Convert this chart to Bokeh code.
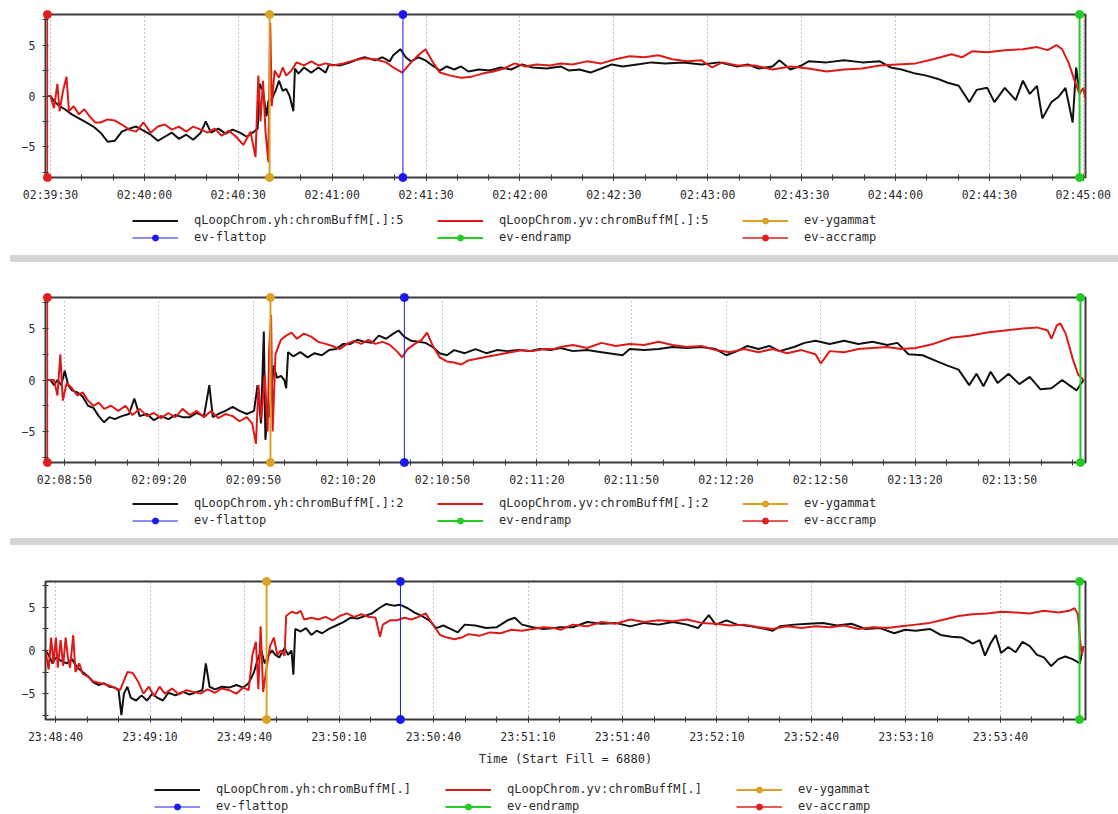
from bokeh.plotting import figure
from bokeh.models import FixedTicker, Legend, LegendItem, Range1d, Div
from bokeh.layouts import column
from bokeh.embed import file_html
from bokeh.resources import INLINE

# ---------------- data (seconds from first labelled tick, value) ----------------
P1_LABELS = ["02:39:30", "02:40:00", "02:40:30", "02:41:00", "02:41:30", "02:42:00",
             "02:42:30", "02:43:00", "02:43:30", "02:44:00", "02:44:30", "02:45:00"]
P2_LABELS = ["02:08:50", "02:09:20", "02:09:50", "02:10:20", "02:10:50", "02:11:20",
             "02:11:50", "02:12:20", "02:12:50", "02:13:20", "02:13:50"]
P3_LABELS = ["23:48:40", "23:49:10", "23:49:40", "23:50:10", "23:50:40", "23:51:10",
             "23:51:40", "23:52:10", "23:52:40", "23:53:10", "23:53:40"]

P1_NAMES = ["qLoopChrom.yh:chromBuffM[.]:5", "qLoopChrom.yv:chromBuffM[.]:5"]
P2_NAMES = ["qLoopChrom.yh:chromBuffM[.]:2", "qLoopChrom.yv:chromBuffM[.]:2"]
P3_NAMES = ["qLoopChrom.yh:chromBuffM[.]", "qLoopChrom.yv:chromBuffM[.]"]
EVENT_NAMES = ["ev-ygammat", "ev-flattop", "ev-endramp", "ev-accramp"]

# event times (s) per panel: ygammat, flattop, endramp, accramp
P1_EVENTS = [[70.0], [112.6], [328.8], [-1.0]]
P2_EVENTS = [[65.4], [107.9], [322.5], [-5.4]]
P3_EVENTS = [[67.0], [109.5], [325.1], []]

P1_YH = [(-1.0,0.0),(0.0,0.0),(1.1,-0.5),(2.9,-1.0),(4.6,-1.3),(6.8,-1.8),(9.1,-2.2),(11.4,-2.6),(13.7,-3.0),(16.0,-3.6),(18.3,-4.5),(20.5,-4.4),(22.8,-3.5),(25.1,-3.2),(27.4,-3.0),(29.7,-3.4),(32.0,-3.8),(34.3,-4.4),(36.5,-4.0),(38.8,-3.6),(41.0,-4.2),(43.4,-3.8),(45.6,-4.3),(48.0,-3.6),(49.6,-2.5),(51.3,-3.6),(53.6,-3.2),(56.0,-3.7),(58.2,-3.3),(60.5,-3.6),(62.7,-4.0),(65.0,-3.5),(66.2,-3.2),(66.8,1.2),(67.9,0.5),(69.0,-2.0),(69.6,-0.5),(70.7,-0.3),(71.9,0.5),(73.0,1.5),(74.2,0.5),(75.3,0.7),(76.4,0.0),(77.6,-1.5),(78.1,2.7),(79.2,2.2),(81.0,2.8),(83.3,2.3),(85.6,2.8),(87.9,2.3),(89.0,3.1),(92.4,3.0),(95.8,3.3),(98.1,3.6),(100.4,3.8),(103.8,3.5),(106.1,3.8),(108.4,3.4),(109.5,4.0),(111.8,4.6),(113.5,3.8),(115.2,3.4),(117.5,3.8),(119.8,3.5),(122.0,3.0),(124.4,2.5),(126.6,2.9),(129.0,2.6),(131.2,2.9),(133.5,2.4),(136.9,2.6),(140.3,2.5),(143.8,2.8),(147.2,2.6),(150.6,3.1),(154.0,2.8),(158.5,2.7),(163.0,2.9),(165.7,2.5),(169.0,2.6),(172.5,2.3),(176.0,2.7),(179.4,3.1),(182.8,2.9),(187.4,3.1),(192.0,3.3),(196.5,3.2),(202.2,3.3),(208.0,3.1),(213.7,3.3),(219.4,2.9),(222.8,3.1),(226.2,2.7),(230.7,2.9),(232.9,3.5),(236.4,2.6),(240.0,3.0),(242.2,3.4),(248.0,3.3),(253.6,3.5),(259.3,3.3),(265.0,3.4),(268.4,2.8),(271.9,2.6),(276.4,2.2),(279.9,2.0),(283.3,1.7),(286.7,1.3),(290.2,1.0),(293.6,-0.6),(295.9,0.6),(299.3,0.8),(301.6,-0.6),(304.9,0.8),(308.4,-0.4),(310.7,1.5),(312.9,0.2),(315.2,1.0),(316.9,-2.2),(319.8,-0.6),(322.0,-0.1),(324.3,0.8),(326.6,-2.6),(327.7,2.8),(328.8,0.3)]

P1_YV = [(-1.0,0.0),(0.0,0.0),(1.1,-1.2),(2.2,1.2),(2.9,-1.5),(4.0,0.5),(5.1,1.9),(5.9,-1.5),(7.4,-1.0),(9.1,-1.8),(10.8,-1.3),(12.5,-2.0),(14.3,-2.6),(16.0,-2.6),(18.3,-2.3),(20.5,-2.4),(22.8,-2.8),(25.1,-3.3),(27.4,-3.5),(29.7,-2.6),(32.0,-3.6),(34.3,-3.0),(36.5,-2.8),(38.8,-3.3),(41.0,-3.0),(43.4,-3.5),(45.6,-3.0),(48.0,-3.3),(50.2,-3.6),(52.5,-3.2),(54.7,-3.9),(57.0,-3.4),(59.3,-4.0),(61.6,-4.8),(63.9,-3.5),(65.5,-6.0),(66.4,2.0),(67.1,-2.5),(67.9,1.5),(68.7,-3.5),(69.6,-6.5),(70.2,7.2),(70.7,-1.0),(71.6,2.5),(73.0,1.8),(74.2,2.8),(75.3,2.0),(77.0,2.5),(78.6,3.3),(81.0,3.0),(83.3,3.4),(85.6,3.0),(87.9,3.2),(90.1,3.0),(93.6,3.2),(97.0,3.5),(100.4,3.7),(103.8,3.6),(107.3,3.3),(109.5,2.8),(112.4,2.3),(115.2,3.3),(117.5,4.0),(119.8,4.6),(122.0,3.4),(124.4,2.3),(127.8,2.0),(131.2,1.8),(134.6,1.9),(138.0,2.2),(141.5,2.4),(144.9,2.7),(148.3,3.2),(151.8,2.9),(155.2,3.1),(159.7,3.0),(163.0,3.2),(166.8,3.1),(171.4,3.4),(176.0,3.2),(180.5,3.6),(185.0,3.9),(189.7,3.8),(194.2,4.0),(198.7,3.6),(203.4,3.4),(208.0,3.5),(211.4,2.8),(214.7,3.3),(219.4,3.0),(225.0,3.0),(230.7,2.6),(236.4,2.9),(242.2,2.7),(248.0,2.4),(253.6,2.6),(259.3,2.7),(265.0,3.0),(270.6,3.1),(276.4,3.2),(282.0,3.6),(287.9,4.1),(291.2,3.8),(294.6,4.4),(299.3,4.3),(304.9,4.5),(310.7,4.6),(315.2,4.8),(318.6,4.5),(321.4,5.0),(323.2,4.6),(325.4,3.2),(327.2,1.5),(328.8,0.2),(330.0,0.8),(330.6,-0.2)]

P2_YH = [(-5.4,0.0),(-4.4,0.0),(-3.3,-0.5),(-2.2,0.0),(-1.0,-0.5),(0.1,0.9),(1.2,-0.5),(2.4,-1.0),(4.1,-1.2),(5.8,-1.6),(7.5,-2.5),(9.2,-2.7),(10.9,-3.5),(12.6,-4.1),(14.3,-3.6),(16.0,-3.8),(18.2,-3.5),(20.5,-3.3),(22.2,-1.8),(23.9,-3.5),(26.2,-3.3),(28.4,-3.9),(30.7,-3.5),(33.0,-3.8),(35.2,-3.4),(37.5,-3.6),(39.8,-3.6),(42.0,-3.2),(44.3,-3.5),(46.0,-0.5),(47.1,-3.6),(48.8,-3.3),(51.1,-3.0),(53.4,-2.6),(55.6,-3.0),(57.9,-3.3),(60.2,-3.0),(61.3,-0.5),(62.4,-4.2),(63.3,4.7),(63.8,-5.8),(64.5,-3.2),(65.0,-3.6),(66.4,1.4),(67.5,0.2),(68.7,0.4),(69.8,0.0),(70.4,-0.8),(71.0,2.7),(72.6,2.3),(74.9,2.7),(77.2,2.2),(79.4,2.6),(81.7,2.4),(84.0,2.9),(86.2,3.0),(88.5,3.5),(90.8,3.5),(93.0,3.9),(95.3,3.7),(97.6,3.6),(99.8,4.3),(102.1,4.0),(104.4,4.5),(106.1,4.8),(107.8,4.2),(110.1,3.8),(112.3,3.7),(114.6,3.6),(116.9,3.2),(119.1,2.6),(121.4,2.4),(123.7,2.9),(127.1,2.6),(130.5,3.0),(133.9,2.6),(137.3,2.9),(140.7,2.8),(144.1,2.9),(147.5,2.8),(150.9,3.0),(154.3,2.9),(157.5,3.1),(161.4,2.8),(165.9,2.9),(170.5,2.7),(175.0,2.5),(177.2,2.4),(179.4,3.0),(184.0,2.9),(188.6,3.0),(193.0,3.2),(197.6,3.1),(202.2,3.2),(206.7,3.0),(210.1,2.4),(213.5,2.8),(216.8,3.3),(220.3,3.0),(223.7,3.3),(227.0,2.8),(231.6,3.2),(234.9,3.6),(238.4,3.8),(242.9,3.5),(247.5,3.8),(252.0,3.5),(256.5,3.7),(261.1,3.4),(264.4,3.6),(267.9,2.5),(272.4,2.4),(277.0,1.8),(280.3,1.4),(283.8,1.0),(287.2,-0.5),(289.5,0.6),(291.7,-0.6),(294.0,0.8),(296.2,-0.3),(299.7,0.6),(303.1,-0.4),(306.4,0.3),(309.8,-0.9),(313.3,-0.8),(316.7,0.0),(318.9,-0.5),(321.3,-1.0),(323.5,0.0)]

P2_YV = [(-5.4,0.0),(-3.3,0.0),(-2.2,-1.5),(-1.3,2.5),(-0.5,-2.0),(0.7,-0.3),(2.4,-0.8),(4.1,-1.5),(5.8,-1.2),(7.5,-2.0),(9.2,-2.5),(10.9,-2.2),(12.6,-2.8),(14.8,-2.5),(17.1,-3.0),(19.4,-2.5),(21.6,-3.4),(23.9,-2.8),(26.2,-3.5),(28.4,-3.2),(30.7,-3.7),(33.0,-3.2),(35.2,-3.6),(37.5,-2.8),(39.8,-3.4),(42.0,-3.0),(44.3,-3.6),(46.6,-3.0),(48.8,-3.7),(51.1,-3.3),(53.4,-3.5),(55.6,-4.0),(57.9,-3.6),(59.6,-4.2),(60.8,-6.2),(61.6,-0.5),(62.5,-3.8),(63.6,0.5),(64.5,-5.0),(65.0,3.0),(65.6,6.3),(66.1,-5.0),(67.0,2.5),(68.7,3.9),(70.4,4.3),(72.1,4.6),(73.8,4.0),(76.0,4.5),(78.3,4.2),(80.6,3.7),(82.9,3.5),(85.1,3.3),(87.4,3.0),(89.7,3.5),(91.9,3.8),(94.2,3.5),(96.5,3.9),(98.7,3.5),(101.0,3.7),(103.3,3.4),(105.5,2.8),(107.2,2.2),(108.9,3.0),(111.2,3.5),(113.4,3.9),(115.1,4.6),(116.8,3.4),(119.1,2.2),(121.4,1.8),(123.7,1.7),(125.9,1.5),(128.2,1.9),(131.6,2.1),(135.0,2.3),(138.4,2.5),(141.8,2.7),(145.2,2.9),(148.6,2.8),(152.0,3.0),(155.4,3.0),(157.5,3.2),(161.4,3.4),(165.9,3.1),(170.5,3.6),(175.0,3.3),(179.4,3.5),(184.0,3.4),(188.6,3.7),(193.0,3.4),(197.6,3.2),(202.2,3.3),(206.7,2.9),(211.2,2.7),(215.8,3.0),(220.3,2.7),(224.8,3.0),(229.4,2.6),(233.9,2.9),(238.4,2.5),(240.1,1.6),(242.9,2.8),(247.5,2.7),(252.0,3.0),(256.5,3.1),(261.1,3.2),(265.6,3.0),(270.2,3.1),(275.8,3.5),(281.5,4.1),(287.2,4.3),(292.9,4.6),(298.5,4.8),(304.2,5.0),(308.7,5.1),(312.1,4.8),(313.3,4.0),(315.0,5.3),(316.1,5.5),(317.8,4.5),(320.1,2.0),(321.8,0.5),(323.5,0.0)]

P3_YH = [(-3.2,0.0),(-2.2,-0.5),(-1.0,-1.5),(0.1,-0.8),(1.8,-1.2),(3.5,-1.5),(5.2,-1.0),(6.9,-2.0),(8.6,-2.5),(10.3,-3.0),(12.0,-3.7),(13.7,-4.0),(15.4,-3.8),(17.1,-4.2),(18.8,-4.3),(20.0,-4.6),(20.9,-7.5),(21.7,-5.0),(22.8,-4.2),(23.9,-5.5),(25.6,-5.8),(27.3,-5.2),(29.0,-5.8),(30.7,-5.0),(32.4,-5.5),(34.1,-5.8),(35.8,-4.9),(38.1,-5.2),(40.4,-4.8),(42.6,-5.1),(44.9,-4.8),(46.6,-4.6),(47.7,-1.5),(48.9,-4.2),(50.6,-4.5),(52.8,-4.2),(55.1,-4.3),(57.4,-4.0),(59.6,-4.3),(61.3,-3.8),(63.0,-2.5),(64.2,-1.0),(65.3,0.0),(66.4,-1.5),(67.6,-0.5),(68.7,0.0),(69.8,-0.5),(71.0,-0.8),(72.7,0.3),(73.8,-0.5),(74.9,0.0),(75.5,-2.8),(76.1,2.5),(77.8,2.2),(79.5,2.6),(81.2,1.8),(82.9,2.3),(84.6,2.0),(86.8,2.5),(89.1,2.9),(91.4,3.3),(93.7,3.8),(95.9,3.7),(98.2,4.0),(100.5,4.3),(102.7,4.9),(105.0,5.4),(107.3,5.2),(109.5,5.3),(111.8,4.9),(114.0,4.4),(116.3,4.0),(118.6,3.5),(120.9,2.6),(123.1,2.9),(125.4,2.5),(127.7,2.1),(129.9,3.0),(133.3,2.9),(136.7,2.6),(140.1,2.7),(143.5,3.5),(145.8,3.8),(148.1,3.0),(151.5,2.7),(154.9,2.5),(158.3,2.6),(160.3,2.7),(164.2,2.7),(168.8,3.3),(173.3,3.1),(177.8,3.2),(182.4,2.8),(186.9,3.2),(191.5,3.0),(196.0,3.3),(200.5,3.0),(204.0,2.6),(207.4,4.1),(209.6,3.0),(213.0,3.5),(216.4,3.0),(220.9,2.8),(225.5,2.5),(227.7,2.3),(230.0,2.8),(234.5,3.0),(239.0,3.1),(243.6,3.2),(248.1,2.9),(252.7,3.1),(257.2,2.5),(261.7,2.6),(266.3,2.0),(269.7,2.4),(273.1,2.3),(277.6,2.5),(281.0,1.8),(284.4,1.6),(287.8,1.5),(291.2,0.8),(293.4,1.2),(295.1,-0.6),(296.8,0.8),(298.5,1.8),(300.2,-0.3),(302.5,0.4),(304.8,-0.2),(307.0,1.0),(309.3,0.5),(311.6,-0.5),(313.8,-0.8),(316.1,-1.8),(318.4,-1.0),(320.6,-0.7),(322.9,-1.0),(325.2,-1.5),(326.3,0.5)]

P3_YV = [(-3.2,0.0),(-2.2,-2.2),(-1.4,1.5),(-0.7,-1.5),(0.1,1.5),(0.7,-2.0),(1.6,1.2),(2.4,-1.8),(3.2,1.5),(3.9,-0.8),(4.6,-2.0),(5.6,1.8),(6.3,-2.5),(7.5,-1.5),(8.6,-2.7),(10.3,-3.0),(12.0,-3.6),(14.3,-3.8),(16.6,-4.0),(18.8,-4.3),(20.5,-4.6),(21.7,-3.5),(22.8,-2.5),(24.5,-2.6),(26.2,-3.6),(27.9,-5.0),(29.6,-4.2),(31.3,-5.3),(33.0,-4.2),(34.7,-5.0),(37.0,-4.4),(39.2,-5.1),(41.5,-4.6),(43.8,-4.8),(46.0,-5.0),(48.3,-4.5),(50.6,-4.9),(52.8,-4.4),(55.1,-4.6),(57.4,-5.0),(59.6,-4.3),(61.3,-4.6),(62.5,-0.5),(63.6,1.0),(64.4,-4.5),(65.1,2.8),(65.9,-4.8),(67.0,-2.0),(68.1,0.5),(69.3,1.5),(70.4,-0.5),(71.5,0.0),(72.7,-0.6),(73.2,4.0),(74.9,4.5),(76.6,4.3),(77.8,4.6),(78.9,3.6),(81.2,3.8),(83.4,3.6),(85.7,3.9),(88.0,3.5),(90.2,4.0),(92.5,4.3),(94.8,3.9),(97.1,4.2),(99.3,3.9),(101.6,3.8),(103.0,1.6),(103.9,3.0),(106.2,3.5),(108.4,3.5),(110.7,3.8),(113.0,3.6),(115.2,3.9),(117.5,4.3),(119.8,3.0),(122.1,1.8),(124.3,1.5),(126.6,1.3),(128.9,1.5),(131.1,1.9),(134.5,1.7),(137.9,2.1),(141.3,2.0),(144.7,2.4),(148.1,2.3),(151.5,2.5),(154.9,2.7),(158.3,2.6),(160.3,2.4),(164.2,3.0),(168.8,2.8),(173.3,3.3),(177.8,3.1),(182.4,3.6),(186.9,3.3),(191.5,3.5),(196.0,3.4),(200.5,3.6),(205.0,3.2),(209.6,3.1),(214.1,2.9),(218.6,3.0),(223.2,2.7),(227.7,2.5),(232.2,2.8),(236.8,2.6),(241.3,2.8),(245.9,2.7),(250.4,2.9),(254.9,2.5),(259.5,2.7),(264.0,2.6),(268.6,2.8),(273.1,3.0),(277.6,3.2),(282.2,3.6),(286.7,4.0),(291.2,4.2),(295.8,4.3),(300.3,4.5),(304.8,4.4),(309.3,4.3),(313.8,4.6),(318.4,4.4),(321.8,4.6),(323.5,4.9),(324.6,4.2),(325.2,1.5),(325.8,-0.5),(326.3,0.5)]

Y_TICKS = [-5, 0, 5]
Y_MINOR = [-7.5, -2.5, 2.5, 7.5]

# ---------------- styling ----------------
FONT = "DejaVu Sans Mono"
TXT = "#2b2b2b"
AX = "#3a3a3a"
C_YH = "#111111"
C_YV = "#dd1a1a"
EVENT_STYLE = [("#dba224", 2.0), ("#1a1aee", 1.0), ("#22cc22", 2.0), ("#e02020", 1.5)]
PAGE_W = 1118


def xs_of(series):
    return [t for t, _ in series]


def ys_of(series):
    return [v for _, v in series]


def panel(labels, x0, x1, yh, yv, events, height, top, bottom, xlabel=None):
    p = figure(width=PAGE_W, height=height, min_border_left=45, min_border_right=33,
               min_border_top=top, min_border_bottom=bottom,
               x_range=Range1d(x0, x1), y_range=Range1d(-8, 8),
               toolbar_location=None, output_backend="svg",
               background_fill_color="white", border_fill_color="white")
    major = [30 * i for i in range(len(labels))]
    minor = [10 * i for i in range(int(x0 // 10) + 1, int(x1 // 10) + 1)]
    p.xaxis.ticker = FixedTicker(ticks=major, minor_ticks=minor)
    p.xaxis.major_label_overrides = {m: l for m, l in zip(major, labels)}
    p.yaxis.ticker = FixedTicker(ticks=Y_TICKS, minor_ticks=Y_MINOR)
    for ax in (p.xaxis[0], p.yaxis[0]):
        ax.axis_line_color = AX
        ax.major_tick_line_color = AX
        ax.minor_tick_line_color = AX
        ax.major_tick_in = 3
        ax.major_tick_out = 3
        ax.minor_tick_in = 3
        ax.minor_tick_out = 3
        ax.major_label_text_font = FONT
        ax.major_label_text_font_size = "11.5px"
        ax.major_label_text_color = TXT
    p.xaxis.major_label_standoff = 7
    p.yaxis.major_label_standoff = 7
    if xlabel:
        p.xaxis.axis_label = xlabel
        p.xaxis.axis_label_text_font = FONT
        p.xaxis.axis_label_text_font_size = "12px"
        p.xaxis.axis_label_text_font_style = "normal"
        p.xaxis.axis_label_text_color = TXT
        p.xaxis.axis_label_standoff = 5
    p.xgrid.grid_line_color = "#8f8f8f"
    p.xgrid.grid_line_dash = "1 3"
    p.ygrid.visible = False
    p.outline_line_color = AX
    p.outline_line_width = 2

    p.line(xs_of(yh), ys_of(yh), line_color=C_YH, line_width=2)
    p.line(xs_of(yv), ys_of(yv), line_color=C_YV, line_width=2)
    for ts, (c, w) in zip(events, EVENT_STYLE):
        n = len(ts)
        p.segment(x0=list(ts), y0=[-8] * n, x1=list(ts), y1=[8] * n,
                  line_color=c, line_width=w)
        p.scatter(x=list(ts) + list(ts), y=[-8] * n + [8] * n, size=8,
                  fill_color=c, line_color=c, level="overlay")
    return p


def legend_strip(names, yh, yv, events, height, lx, ly, label_w):
    # The strip views a range that holds no data, so its renderers only serve as
    # legend keys (same data and styles as the panel, nothing drawn in the strip).
    f = figure(width=PAGE_W, height=height, min_border_left=45, min_border_right=33,
               min_border_top=0, min_border_bottom=0, x_axis_location=None,
               y_axis_location=None, x_range=Range1d(-1001, -1000),
               y_range=Range1d(-1001, -1000),
               toolbar_location=None, output_backend="svg", outline_line_color=None,
               background_fill_color="white", border_fill_color="white")
    f.grid.visible = False
    r_h = f.line(xs_of(yh), ys_of(yh), line_color=C_YH, line_width=2)
    r_v = f.line(xs_of(yv), ys_of(yv), line_color=C_YV, line_width=2)
    items = [LegendItem(label=names[0], renderers=[r_h]),
             LegendItem(label=names[1], renderers=[r_v])]
    for name, ts, (c, w) in zip(EVENT_NAMES, events, EVENT_STYLE):
        xs = list(ts) if ts else [yh[0][0]]
        n = len(xs)
        seg = f.segment(x0=xs, y0=[-8] * n, x1=xs, y1=[8] * n, line_color=c, line_width=w)
        sc = f.scatter(x=xs, y=[8] * n, size=7, fill_color=c, line_color=c)
        items.append(LegendItem(label=name, renderers=[seg, sc]))
    leg = Legend(items=items, orientation="horizontal", ncols=3,
                 location=(lx, ly), margin=0, padding=0, spacing=2,
                 glyph_width=46, glyph_height=15, label_height=15, label_width=label_w,
                 label_standoff=16, label_text_font=FONT, label_text_font_size="12px",
                 label_text_color=TXT, background_fill_alpha=0, border_line_color=None)
    f.add_layout(leg)
    return f


def separator():
    return Div(text="", width=PAGE_W, height=7, margin=(0, 0, 0, 0),
               styles={"background": "linear-gradient(to right, #ffffff 10px, #d6d6d6 10px)"})


def gap(h):
    return Div(text="", width=PAGE_W, height=h, margin=(0, 0, 0, 0))


p1 = panel(P1_LABELS, -1.6, 330.7, P1_YH, P1_YV, P1_EVENTS, height=204, top=14, bottom=27)
l1 = legend_strip(P1_NAMES, P1_YH, P1_YV, P1_EVENTS, 51, 87, 10.5, 241)
p2 = panel(P2_LABELS, -6.0, 324.1, P2_YH, P2_YV, P2_EVENTS, height=227, top=35, bottom=27)
l2 = legend_strip(P2_NAMES, P2_YH, P2_YV, P2_EVENTS, 48, 87, 9.5, 241)
p3 = panel(P3_LABELS, -3.2, 327.0, P3_YH, P3_YV, P3_EVENTS, height=219, top=32, bottom=46,
           xlabel="Time (Start Fill = 6880)")
l3 = legend_strip(P3_NAMES, P3_YH, P3_YV, P3_EVENTS, 46, 109, 0.5, 227)

layout = column(p1, l1, separator(), p2, l2, gap(1), separator(), gap(4), p3, l3, spacing=0)

open("out.html", "w").write(file_html(layout, INLINE))
